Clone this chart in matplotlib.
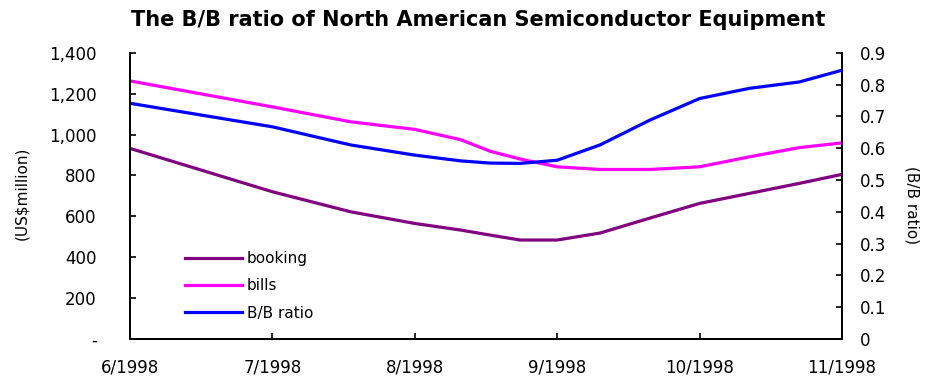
import matplotlib
matplotlib.use("Agg")
import matplotlib.pyplot as plt
from matplotlib.ticker import FuncFormatter

months = [6.0, 7.0, 7.55, 8.0, 8.32, 8.53, 8.74, 9.0, 9.3, 9.65, 10.0, 10.35, 10.7, 11.0]
booking = [932, 720, 622, 565, 533, 508, 484, 484, 518, 591, 663, 712, 761, 805]
bills = [1262, 1135, 1062, 1025, 975, 918, 880, 842, 829, 829, 842, 891, 936, 959]
bb_ratio = [0.741, 0.667, 0.610, 0.578, 0.560, 0.553, 0.552, 0.562, 0.610, 0.688, 0.756, 0.788, 0.808, 0.845]

tick_pos = [6, 7, 8, 9, 10, 11]
tick_labels = ["6/1998", "7/1998", "8/1998", "9/1998", "10/1998", "11/1998"]

plt.rcParams["font.family"] = ["DejaVu Sans"]

fig = plt.figure(figsize=(9.27, 3.8), dpi=100)
ax = fig.add_axes([0.1402, 0.1079, 0.9083 - 0.1402, 0.8613 - 0.1079])
ax2 = ax.twinx()

l1, = ax.plot(months, booking, color="#800080", lw=2.3, label="booking")
l2, = ax.plot(months, bills, color="#FF00FF", lw=2.3, label="bills")
l3, = ax2.plot(months, bb_ratio, color="#0000FF", lw=2.3, label="B/B ratio")

ax.set_xlim(6, 11)
ax.set_ylim(0, 1400)
ax2.set_ylim(0, 0.9)
ax.set_yticks(range(0, 1401, 200))
ax.yaxis.set_major_formatter(FuncFormatter(lambda v, p: "-" if v == 0 else f"{int(v):,}"))
ax2.set_yticks([i / 10 for i in range(10)])
ax2.yaxis.set_major_formatter(FuncFormatter(lambda v, p: "0" if v == 0 else f"{v:.1f}"))
ax.set_xticks(tick_pos)
ax.set_xticklabels(tick_labels)

for a in (ax, ax2):
    a.spines["top"].set_visible(False)
    a.spines["left"].set_linewidth(1.3)
    a.spines["right"].set_linewidth(1.3)
    a.spines["bottom"].set_linewidth(1.3)
ax.tick_params(axis="y", direction="in", length=4, width=1.2, pad=24, labelsize=12, colors="black")
ax.tick_params(axis="x", direction="in", length=4, width=1.2, pad=14, labelsize=12)
ax2.tick_params(axis="y", direction="in", length=4, width=1.2, pad=13, labelsize=12)

fig.text(0.024, 0.49, "(US$million)", rotation=90, ha="center", va="center", fontsize=11)
fig.text(0.984, 0.46, "(B/B ratio)", rotation=270, ha="center", va="center", fontsize=11)

fig.suptitle("The B/B ratio of North American Semiconductor Equipment",
             x=0.516, y=0.975, fontsize=15, fontweight="bold")

ax.legend([l1, l2, l3], ["booking", "bills", "B/B ratio"], loc="lower left",
          bbox_to_anchor=(0.058, 0.016), frameon=False, fontsize=11,
          handlelength=3.7, handletextpad=0.35, labelspacing=0.8)

fig.savefig("out.png", dpi=100)
